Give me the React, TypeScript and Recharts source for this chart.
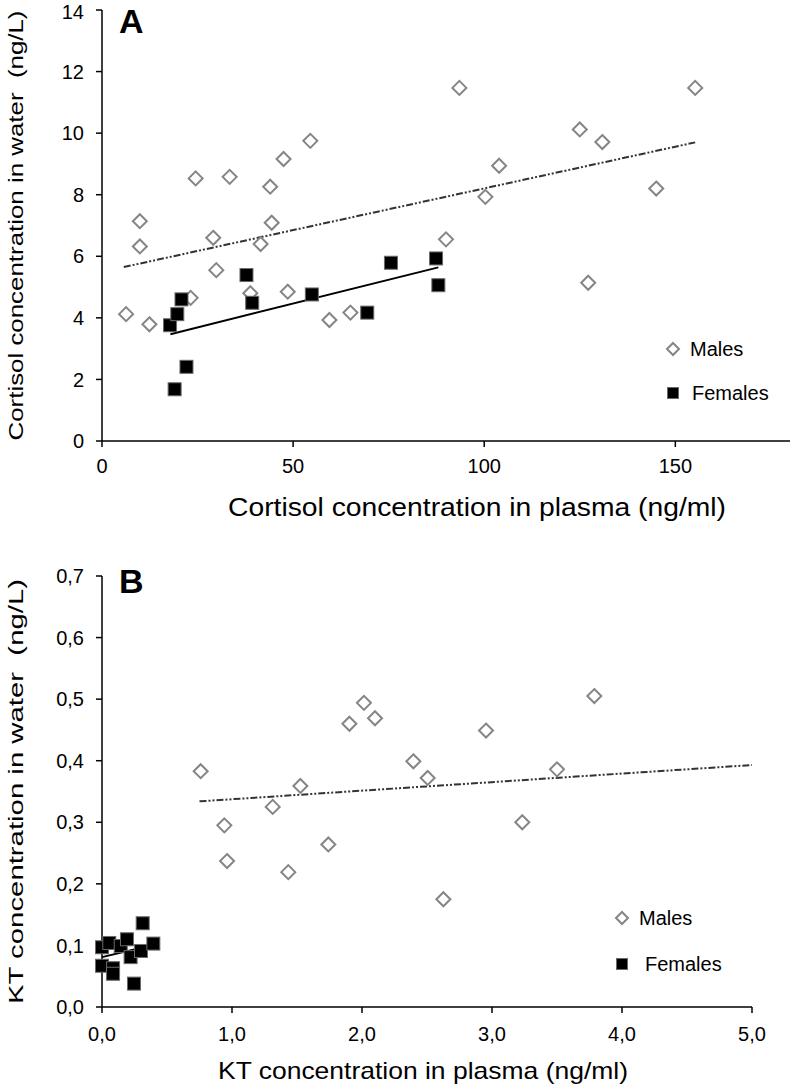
import React from 'react';
import { ScatterChart, Scatter, XAxis, YAxis, ReferenceLine } from 'recharts';

// ---- Panel A: cortisol ----
const cortMalePlasma = [6.3, 9.9, 9.9, 12.4, 23.2, 24.5, 29.1, 29.9, 33.4, 38.8, 41.5, 44.0, 44.4, 47.5, 48.6, 54.5, 59.5, 65.0, 90.0, 93.5, 100.3, 103.9, 125.0, 127.2, 130.9, 145.0, 155.2];
const cortMaleWater = [4.12, 7.14, 6.32, 3.79, 4.65, 8.53, 6.6, 5.55, 8.58, 4.8, 6.4, 8.26, 7.09, 9.16, 4.85, 9.75, 3.93, 4.17, 6.55, 11.47, 7.93, 8.94, 10.12, 5.14, 9.71, 8.2, 11.47];
const cortFemalePlasma = [17.8, 19.7, 20.8, 22.1, 19.0, 37.8, 39.3, 54.9, 69.4, 75.6, 87.4, 88.0];
const cortFemaleWater = [3.76, 4.12, 4.6, 2.41, 1.68, 5.39, 4.49, 4.76, 4.17, 5.79, 5.93, 5.06];
const cortMaleTrend = [{ x: 5.7, y: 5.65 }, { x: 155.2, y: 9.7 }];
const cortFemaleTrend = [{ x: 17.9, y: 3.47 }, { x: 88.0, y: 5.64 }];
const aXTicks = [0, 50, 100, 150];
const aYTicks = [0, 2, 4, 6, 8, 10, 12, 14];

// ---- Panel B: KT ----
const ktMalePlasma = [0.759, 0.941, 0.962, 1.313, 1.433, 1.526, 1.741, 1.903, 2.015, 2.1, 2.395, 2.505, 2.626, 2.954, 3.233, 3.5, 3.787];
const ktMaleWater = [0.383, 0.295, 0.237, 0.325, 0.219, 0.359, 0.264, 0.46, 0.494, 0.469, 0.399, 0.372, 0.175, 0.449, 0.3, 0.386, 0.505];
const ktFemalePlasma = [0.0, 0.0, 0.056, 0.085, 0.085, 0.144, 0.192, 0.22, 0.246, 0.3, 0.313, 0.395];
const ktFemaleWater = [0.097, 0.067, 0.104, 0.063, 0.054, 0.099, 0.11, 0.081, 0.038, 0.091, 0.136, 0.103];
const ktMaleTrend = [{ x: 0.75, y: 0.334 }, { x: 5.0, y: 0.393 }];
const ktFemaleTrend = [{ x: 0.0, y: 0.081 }, { x: 0.36, y: 0.099 }];
const bXTicks = [0, 1, 2, 3, 4, 5];
const bYTicks = [0, 0.1, 0.2, 0.3, 0.4, 0.5, 0.6, 0.7];

const legendLabels = ['Males', 'Females'];

const zip = (xs: number[], ys: number[]) => xs.map((x, i) => ({ x, y: ys[i] }));

const FONT = '"Liberation Sans", Arial, Helvetica, sans-serif';
const tickStyle = { fontSize: 20, fill: '#000', fontFamily: FONT };
const comma = (v: number) => v.toFixed(1).replace('.', ',');

const DIAMOND_STROKE = '#858585';

const Diamond = (p: any) => {
  const { cx, cy } = p;
  const r = 7;
  return (
    <path
      d={`M${cx},${cy - r}L${cx + r},${cy}L${cx},${cy + r}L${cx - r},${cy}Z`}
      fill="#fff"
      stroke={DIAMOND_STROKE}
      strokeWidth={2}
    />
  );
};

const Square = (p: any) => {
  const { cx, cy } = p;
  return <rect x={cx - 6.5} y={cy - 6.5} width={13} height={13} fill="#000" stroke="#6a6a6a" strokeWidth={1} />;
};

const LegendBox = ({ left, top, gap, femaleDx }: { left: number; top: number; gap: number; femaleDx: number }) => (
  <svg
    width={140}
    height={90}
    style={{ position: 'absolute', left, top, overflow: 'visible' }}
    fontFamily={FONT}
    fontSize={20}
  >
    <path d="M13,14L19,20L13,26L7,20Z" fill="#fff" stroke={DIAMOND_STROKE} strokeWidth={2} />
    <text x={30} y={20} dominantBaseline="central" fill="#000">{legendLabels[0]}</text>
    <rect x={7.5} y={20 + gap - 5.5} width={11} height={11} fill="#000" stroke="#6a6a6a" strokeWidth={1} />
    <text x={30 + femaleDx} y={20 + gap} dominantBaseline="central" fill="#000">{legendLabels[1]}</text>
  </svg>
);

const xTitle = (text: string, dx: number, dy: number, len: number, size: number) => (props: any) => {
  const vb = props.viewBox;
  return (
    <text
      x={vb.x + vb.width / 2 + dx}
      y={vb.y + dy}
      textAnchor="middle"
      dominantBaseline="central"
      fontSize={size}
      fontFamily={FONT}
      fill="#000"
      textLength={len}
      lengthAdjust="spacingAndGlyphs"
    >
      {text}
    </text>
  );
};

const yTitle = (text: string, cx: number, len: number, size: number) => (props: any) => {
  const vb = props.viewBox;
  const cy = vb.y + vb.height / 2;
  return (
    <text
      x={cx}
      y={cy}
      transform={`rotate(-90 ${cx} ${cy})`}
      textAnchor="middle"
      dominantBaseline="central"
      fontSize={size}
      fontFamily={FONT}
      fill="#000"
      textLength={len}
      lengthAdjust="spacingAndGlyphs"
      style={{ whiteSpace: 'pre' }}
    >
      {text}
    </text>
  );
};

const letterStyle: React.CSSProperties = {
  position: 'absolute',
  fontFamily: FONT,
  fontWeight: 'bold',
  fontSize: 34,
  lineHeight: 1,
  color: '#000',
};

export default function App() {
  return (
    <div style={{ position: 'absolute', left: 0, top: 0, width: 792, height: 1091, background: '#fff' }}>
      <div style={{ position: 'absolute', left: 0, top: 0 }}>
        <ScatterChart width={792} height={545} margin={{ top: 10, right: 2, bottom: 4, left: 0 }}>
          <XAxis
            type="number"
            dataKey="x"
            domain={[0, 180]}
            ticks={aXTicks}
            allowDataOverflow
            height={100}
            tick={tickStyle}
            tickSize={6}
            tickMargin={12}
            stroke="#000"
            strokeWidth={1.5}
            label={{ content: xTitle('Cortisol concentration in plasma (ng/ml)', 31, 66, 498, 25) }}
          />
          <YAxis
            type="number"
            dataKey="y"
            domain={[0, 14]}
            ticks={aYTicks}
            width={102}
            tick={tickStyle}
            tickSize={6}
            tickMargin={12}
            stroke="#000"
            strokeWidth={1.5}
            label={{ content: yTitle('Cortisol concentration in water  (ng/L)', 15, 430, 21) }}
          />
          <ReferenceLine segment={cortMaleTrend} stroke="#333" strokeWidth={2} strokeDasharray="7 2 2 2 2 2" ifOverflow="visible" />
          <ReferenceLine segment={cortFemaleTrend} stroke="#000" strokeWidth={2} ifOverflow="visible" />
          <Scatter name="Males" data={zip(cortMalePlasma, cortMaleWater)} shape={Diamond} isAnimationActive={false} />
          <Scatter name="Females" data={zip(cortFemalePlasma, cortFemaleWater)} shape={Square} isAnimationActive={false} />
        </ScatterChart>
        <LegendBox left={660} top={329} gap={44} femaleDx={2} />
        <div style={{ ...letterStyle, left: 119, top: 4 }}>A</div>
      </div>
      <div style={{ position: 'absolute', left: 0, top: 545 }}>
        <ScatterChart width={792} height={546} margin={{ top: 31, right: 40, bottom: 0, left: 0 }}>
          <XAxis
            type="number"
            dataKey="x"
            domain={[0, 5]}
            ticks={bXTicks}
            tickFormatter={comma}
            height={84}
            tick={tickStyle}
            tickSize={6}
            tickMargin={14}
            stroke="#000"
            strokeWidth={1.5}
            label={{ content: xTitle('KT concentration in plasma (ng/ml)', -4, 63, 410, 24) }}
          />
          <YAxis
            type="number"
            dataKey="y"
            domain={[0, 0.7]}
            ticks={bYTicks}
            tickFormatter={comma}
            width={102}
            tick={tickStyle}
            tickSize={6}
            tickMargin={12}
            stroke="#000"
            strokeWidth={1.5}
            label={{ content: yTitle('KT concentration in water  (ng/L)', 15, 425, 21) }}
          />
          <ReferenceLine segment={ktMaleTrend} stroke="#333" strokeWidth={2} strokeDasharray="7 2 2 2 2 2" ifOverflow="visible" />
          <ReferenceLine segment={ktFemaleTrend} stroke="#000" strokeWidth={2} ifOverflow="visible" />
          <Scatter name="Males" data={zip(ktMalePlasma, ktMaleWater)} shape={Diamond} isAnimationActive={false} />
          <Scatter name="Females" data={zip(ktFemalePlasma, ktFemaleWater)} shape={Square} isAnimationActive={false} />
        </ScatterChart>
        <LegendBox left={609} top={353} gap={46} femaleDx={6} />
        <div style={{ ...letterStyle, left: 119, top: 19 }}>B</div>
      </div>
    </div>
  );
}
